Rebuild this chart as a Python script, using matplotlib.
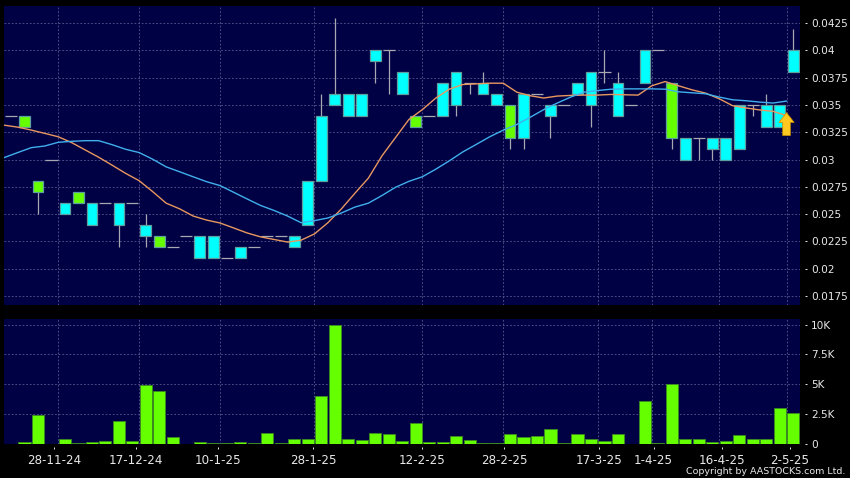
import numpy as np
import matplotlib
matplotlib.use("Agg")
import matplotlib.pyplot as plt

# candle data, one entry per session
body_hi = [.034, .034, .028, .030, .026, .027, .026, .026, .026, .026,
           .024, .023, .022, .023, .023, .023, .021, .022, .022, .023,
           .023, .023, .028, .034, .036, .036, .036, .040, .040, .038,
           .034, .034, .037, .038, .037, .037, .036, .035, .036, .036,
           .035, .035, .037, .038, .038, .037, .035, .040, .040, .037,
           .032, .032, .032, .032, .035, .035, .035, .035, .040]
body_lo = [.034, .033, .027, .030, .025, .026, .024, .026, .024, .026,
           .023, .022, .022, .023, .021, .021, .021, .021, .022, .023,
           .023, .022, .024, .028, .035, .034, .034, .039, .040, .036,
           .033, .034, .034, .035, .037, .036, .035, .032, .032, .036,
           .034, .035, .036, .035, .038, .034, .035, .037, .040, .032,
           .030, .032, .031, .030, .031, .035, .033, .033, .038]
highs = [.034, .034, .028, .030, .026, .027, .026, .026, .026, .026,
         .025, .023, .022, .023, .023, .023, .021, .022, .022, .023,
         .023, .023, .028, .036, .043, .036, .036, .040, .040, .038,
         .034, .034, .037, .038, .037, .038, .036, .035, .036, .036,
         .035, .035, .037, .038, .040, .038, .035, .040, .040, .037,
         .032, .032, .032, .032, .035, .035, .036, .035, .042]
lows = [.034, .033, .025, .030, .025, .026, .024, .026, .022, .026,
        .022, .022, .022, .023, .021, .021, .021, .021, .022, .023,
        .023, .022, .024, .028, .035, .034, .034, .037, .036, .036,
        .033, .034, .034, .034, .036, .036, .035, .031, .031, .036,
        .032, .035, .036, .033, .037, .034, .035, .037, .040, .031,
        .030, .030, .030, .030, .031, .034, .033, .033, .038]
green_days = [1, 2, 5, 11, 30, 37, 49]

ma_short = [.03315, .03297, .0327, .0324, .03209, .03155, .03088, .03021, .02948, .02873,
            .02806, .02706, .026, .02548, .02482, .02445, .02418, .02373, .02327, .02291,
            .02267, .02243, .0226, .02318, .02421, .02548, .02691, .0283, .03033, .032,
            .03367, .03458, .03564, .03645, .03688, .03694, .037, .037, .03618, .03585,
            .03564, .03582, .03588, .03591, .03591, .03597, .03594, .03591, .03676, .03715,
            .03676, .03639, .03609, .03558, .03494, .03473, .03455, .03442, .03403]
ma_long = [.03018, .03064, .03109, .03124, .03158, .03167, .03173, .03173, .03136, .03094,
           .03064, .03003, .02933, .02888, .02842, .02797, .02761, .027, .02639, .02579,
           .02533, .02482, .02421, .0244, .02464, .0251, .02564, .026, .0267, .02745,
           .028, .02842, .02912, .02988, .0307, .03139, .03209, .0327, .03321, .03388,
           .03458, .03518, .03573, .03618, .03633, .03645, .03648, .03648, .03648, .03645,
           .03621, .03612, .03603, .03573, .03548, .03539, .03527, .03518, .03536]

volume = [0, 100, 2400, 0, 400, 30, 100, 200, 1920, 200,
          4900, 4380, 550, 0, 100, 50, 20, 150, 20, 900,
          20, 400, 400, 3970, 10000, 350, 300, 850, 760, 200,
          1730, 150, 100, 650, 300, 80, 80, 800, 550, 600,
          1250, 30, 780, 420, 220, 800, 0, 3550, 20, 4970,
          380, 380, 150, 170, 680, 350, 420, 3000, 2580]

price_ticks = [.0175, .02, .0225, .025, .0275, .03, .0325, .035, .0375, .04, .0425]
price_labels = ["0.0175", "0.02", "0.0225", "0.025", "0.0275", "0.03", "0.0325",
                "0.035", "0.0375", "0.04", "0.0425"]
vol_ticks = [0, 2500, 5000, 7500, 10000]
vol_labels = ["0", "2.5K", "5K", "7.5K", "10K"]

date_labels = ["28-11-24", "17-12-24", "10-1-25", "28-1-25", "12-2-25",
               "28-2-25", "17-3-25", "1-4-25", "16-4-25", "2-5-25"]
date_ticks = [3.2, 9.25, 15.35, 22.4, 30.45, 36.55, 43.6, 47.65, 52.7, 57.75]
grid_days = [3.5, 9.5, 15.5, 22.5, 30.5, 36.5, 43.5, 47.5, 52.5, 57.5]

signal_x = 57.5
signal_price = 0.0343
signal_tail = 0.0322

NAVY = "#000044"
GRID = "#50508a"
W, H = 850, 478


def make_axes(top, bottom, left=4, right=800):
    ax = fig.add_axes([left / W, 1 - bottom / H, (right - left) / W, (bottom - top) / H])
    ax.set_facecolor(NAVY)
    for name, sp in ax.spines.items():
        sp.set_visible(False)
    ax.spines["right"].set_position(("outward", 3.5))
    ax.spines["bottom"].set_position(("outward", 2.5))
    ax.yaxis.tick_right()
    ax.set_xlim(-0.52, 58.5)
    ax.set_xticks(grid_days, minor=True)
    ax.grid(True, which="minor", axis="x", color=GRID, ls=(0, (2, 2)), lw=0.65)
    ax.grid(True, which="major", axis="y", color=GRID, ls=(0, (2, 2)), lw=0.65)
    ax.tick_params(which="minor", length=0)
    ax.tick_params(which="major", colors="#e8e8e8", labelsize=7.6, length=1.6, width=0.7, pad=3)
    ax.tick_params(axis="x", which="major", labelsize=8.6, pad=3.5)
    ax.set_axisbelow(True)
    return ax


fig = plt.figure(figsize=(8.5, 4.78), dpi=100, facecolor="black")

ax = make_axes(6, 305)
ax.set_ylim(0.01666, 0.04408)
ax.set_yticks(price_ticks, labels=price_labels)
ax.set_xticks([])

x = np.arange(len(body_hi))
hi = np.array(body_hi)
lo = np.array(body_lo)
colors = ["#66ff00" if i in green_days else "#00ffff" for i in x]

ax.vlines(x, lows, highs, color="#a8a8b0", lw=0.9, zorder=2)
solid = hi > lo
ax.hlines(hi[~solid], x[~solid] - 0.45, x[~solid] + 0.45, color="#a8a8b0", lw=0.9, zorder=2)
ax.bar(x[solid], (hi - lo)[solid], bottom=lo[solid], width=0.8,
       color=np.array(colors)[solid], edgecolor="#5f9ea0", lw=0.9, zorder=3)

ma_x = x - 0.5
ax.plot(ma_x, ma_short, color="#e8985f", lw=1.0, zorder=4)
ax.plot(ma_x, ma_long, color="#40b0ec", lw=1.0, zorder=4)

ax.annotate("", xy=(signal_x, signal_price), xytext=(signal_x, signal_tail), zorder=5,
            arrowprops=dict(arrowstyle="simple,head_width=1.1,head_length=0.7,tail_width=0.55",
                            facecolor="#ffc820", edgecolor="#c89000", lw=0.5,
                            shrinkA=0, shrinkB=0))

vx = make_axes(319, 443.5)
vx.set_ylim(0, 10480)
vx.set_yticks(vol_ticks, labels=vol_labels)
vx.set_xticks(date_ticks, labels=date_labels)
vx.bar(x, volume, width=0.9, color="#66ff00", edgecolor="#3c8c20", lw=0.6, zorder=3)

fig.text(845 / W, 1 - 471.5 / H, "Copyright by AASTOCKS.com Ltd.", color="#e8e8e8",
         fontsize=6.8, ha="right", va="center")

fig.savefig("out.png", dpi=100, facecolor="black")
